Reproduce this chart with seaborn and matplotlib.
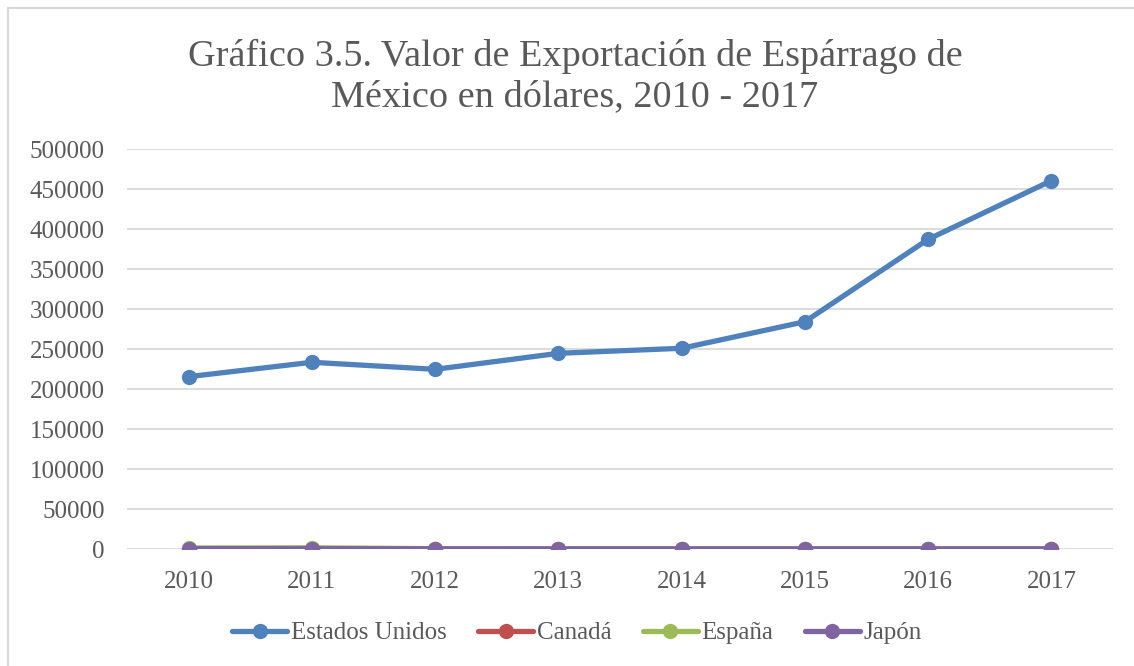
import matplotlib
matplotlib.use("Agg")
import matplotlib.pyplot as plt
import pandas as pd
import seaborn as sns
from matplotlib.patches import Rectangle

# valores (dolares)
years = [2010, 2011, 2012, 2013, 2014, 2015, 2016, 2017]
estados_unidos = [215400, 233400, 224600, 244600, 250900, 284100, 387100, 460400]
canada = [300, 250, 150, 100, 120, 90, 80, 60]
espana = [1200, 1500, 400, 200, 150, 100, 80, 60]
japon = [500, 400, 200, 100, 80, 60, 50, 40]

countries = ["Estados Unidos", "Canadá", "España", "Japón"]
colors = ["#4F81BD", "#C0504D", "#9BBB59", "#8064A2"]

df = pd.DataFrame({
    "year": years * 4,
    "valor": estados_unidos + canada + espana + japon,
    "pais": [c for c in countries for _ in years],
})

sns.set_style("white")
plt.rcParams["font.family"] = ["Liberation Serif", "DejaVu Serif"]
text_color = "#595959"

fig = plt.figure(figsize=(11.34, 6.66), dpi=100)
ax = fig.add_axes([127 / 1134, 117 / 666, 986 / 1134, 400 / 666])

sns.lineplot(data=df, x="year", y="valor", hue="pais", hue_order=countries,
             palette=colors, marker="o", markersize=11, markeredgewidth=0,
             linewidth=3.8, ax=ax, legend=True)

ax.set_xlim(2009.5, 2017.5)
ax.set_ylim(0, 500000)
ax.set_xticks(years)
ax.set_xticklabels([str(y) for y in years])
ax.set_yticks(range(0, 500001, 50000))
ax.set_yticklabels([str(v) for v in range(0, 500001, 50000)])
ax.grid(axis="y", color="#D9D9D9", linewidth=1.3)
ax.set_axisbelow(True)
for s in ax.spines.values():
    s.set_visible(False)
ax.tick_params(axis="both", length=0, labelsize=18, colors=text_color)
ax.tick_params(axis="y", pad=16)
ax.tick_params(axis="x", pad=16)
ax.set_xlabel("")
ax.set_ylabel("")

handles, labels = ax.get_legend_handles_labels()
ax.legend(handles, labels, loc="center", bbox_to_anchor=(577 / 1134, 33 / 666),
          bbox_transform=fig.transFigure, ncol=4, frameon=False, fontsize=18,
          handlelength=2.2, handletextpad=0.15, columnspacing=1.25,
          labelcolor=text_color)

fig.text(575 / 1134, 610 / 666, "Gráfico 3.5. Valor de Exportación de Espárrago de",
         ha="center", va="center", fontsize=27.5, color=text_color)
fig.text(575 / 1134, 569 / 666, "México en dólares, 2010 - 2017",
         ha="center", va="center", fontsize=27.5, color=text_color)

fig.patches.append(Rectangle((8 / 1134, -0.1), 1.2, 0.1 + 658 / 666,
                             transform=fig.transFigure, fill=False,
                             edgecolor="#D9D9D9", linewidth=1.5))

fig.savefig("out.png", dpi=100)
